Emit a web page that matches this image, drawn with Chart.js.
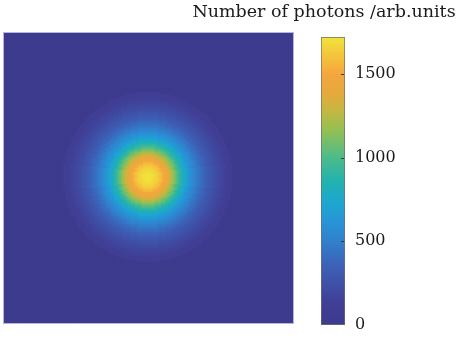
<!DOCTYPE html>
<html>
<head>
<meta charset="utf-8">
<title>Photon distribution</title>
<script src="https://cdn.jsdelivr.net/npm/chart.js"></script>
<style>
  body { margin: 0; background: #fff; }
  #wrap { position: relative; width: 462px; height: 340px; overflow: hidden; }
  #heat { position: absolute; left: 0; top: 0; }
  #bar { position: absolute; left: 186px; top: 0; }
</style>
</head>
<body>
<div id="wrap">
  <canvas id="heat" width="300" height="340"></canvas>
  <canvas id="bar" width="276" height="340"></canvas>
</div>
<script>
// square grid of cells, spot sits in the middle
var gridSize = 145;
var spotCenter = [72, 72];
// photon count vs distance from the spot centre (one entry per cell of radius),
// read off the picture; outside the last entry the field is 0
var radialProfile = [
  1720, 1716, 1705, 1688, 1665, 1636, 1600, 1556, 1505, 1448,
  1386, 1320, 1230, 1150, 1070, 990, 915, 845, 780, 722,
  670, 622, 578, 538, 502, 468, 435, 402, 372, 344,
  318, 295, 274, 255, 232, 214, 196, 180, 165, 150,
  138, 126, 115
];
var colorbarMax = 1720;
var colorbarTicks = [0, 500, 1000, 1500];
var colorbarTitle = 'Number of photons /arb.units';

// parula-like colormap as it looks in the picture
var cmapStops = [
  [0.00, '#3d3b8e'], [0.08, '#403f96'], [0.15, '#3f52a8'], [0.22, '#3b66bb'],
  [0.29, '#3180cc'], [0.35, '#2892d6'], [0.42, '#1ea6d0'], [0.50, '#22b2ae'],
  [0.58, '#4cbb8a'], [0.68, '#96c052'], [0.75, '#c8b640'], [0.80, '#e4aa3c'],
  [0.87, '#f4a63e'], [0.93, '#f4c23c'], [1.00, '#f1e33a']
];

function hexRgb(h) {
  return [parseInt(h.substr(1, 2), 16), parseInt(h.substr(3, 2), 16), parseInt(h.substr(5, 2), 16)];
}

function cmap(t) {
  t = Math.max(0, Math.min(1, t));
  for (var i = 1; i < cmapStops.length; i++) {
    if (t <= cmapStops[i][0]) {
      var a = cmapStops[i - 1], b = cmapStops[i];
      var f = (t - a[0]) / (b[0] - a[0]);
      var ca = hexRgb(a[1]), cb = hexRgb(b[1]);
      return 'rgb(' + Math.round(ca[0] + (cb[0] - ca[0]) * f) + ',' +
        Math.round(ca[1] + (cb[1] - ca[1]) * f) + ',' +
        Math.round(ca[2] + (cb[2] - ca[2]) * f) + ')';
    }
  }
  return cmapStops[cmapStops.length - 1][1];
}

var cells = [];
var cellColors = [];
for (var row = 0; row < gridSize; row++) {
  for (var col = 0; col < gridSize; col++) {
    var d = Math.round(Math.hypot(col - spotCenter[0], row - spotCenter[1]));
    var v = d < radialProfile.length ? radialProfile[d] : 0;
    cells.push({ x: col, y: row, v: v });
    cellColors.push(cmap(v / colorbarMax));
  }
}

var serif = 'DejaVu Serif';

// thin frame around the image
var frame = {
  id: 'frame',
  afterDraw: function (chart) {
    var a = chart.chartArea, c = chart.ctx;
    c.save();
    c.strokeStyle = 'rgba(175,172,218,0.9)';
    c.lineWidth = 1;
    c.strokeRect(a.left - 0.5, a.top - 0.5, a.right - a.left + 1, a.bottom - a.top + 1);
    c.restore();
  }
};

new Chart(document.getElementById('heat'), {
  type: 'scatter',
  data: {
    datasets: [{
      data: cells,
      pointStyle: 'rect',
      pointRadius: 2.5,
      pointBorderWidth: 0,
      pointBackgroundColor: cellColors
    }]
  },
  options: {
    responsive: false,
    animation: false,
    events: [],
    clip: 0,
    layout: { padding: { left: 3, top: 33, right: 7, bottom: 17 } },
    plugins: { legend: { display: false }, tooltip: { enabled: false } },
    scales: {
      x: { display: false, min: -0.5, max: gridSize - 0.5 },
      y: { display: false, min: -0.5, max: gridSize - 0.5, reverse: true }
    }
  },
  plugins: [frame]
});

// small inward tick marks on the right edge of the colour bar
var barTicks = {
  id: 'barTicks',
  afterDatasetsDraw: function (chart) {
    var a = chart.chartArea, c = chart.ctx, y = chart.scales.y;
    c.save();
    c.strokeStyle = '#3a3a3a';
    c.lineWidth = 1;
    colorbarTicks.forEach(function (t) {
      if (t === 0) return;
      var py = Math.round(y.getPixelForValue(t)) + 0.5;
      c.beginPath();
      c.moveTo(a.right - 1, py);
      c.lineTo(a.right - 4, py);
      c.stroke();
    });
    c.restore();
  }
};

new Chart(document.getElementById('bar'), {
  type: 'bar',
  data: {
    labels: [''],
    datasets: [{
      data: [[0, colorbarMax]],
      xAxisID: 'x',
      yAxisID: 'y',
      barPercentage: 1,
      categoryPercentage: 1,
      borderColor: '#6e6e6e',
      borderWidth: 1,
      borderSkipped: false,
      backgroundColor: function (ctx) {
        var chart = ctx.chart;
        if (!chart.chartArea) return cmapStops[0][1];
        var y = chart.scales.y;
        var g = chart.ctx.createLinearGradient(0, y.getPixelForValue(0), 0, y.getPixelForValue(colorbarMax));
        cmapStops.forEach(function (s) { g.addColorStop(s[0], s[1]); });
        return g;
      }
    }]
  },
  options: {
    responsive: false,
    animation: false,
    events: [],
    layout: { padding: { left: 0, right: 0, top: 0, bottom: 15 } },
    plugins: {
      legend: { display: false },
      tooltip: { enabled: false },
      title: {
        display: true,
        text: colorbarTitle,
        color: '#1a1a1a',
        font: { family: serif, size: 17.5, weight: 'normal' },
        padding: { top: 2, bottom: 14 }
      }
    },
    scales: {
      x: { display: false },
      // empty spacer so the bar sits to the right of the image
      gap: {
        type: 'linear',
        position: 'left',
        grid: { display: false },
        border: { display: false },
        ticks: { display: false },
        afterFit: function (scale) { scale.width = 135; }
      },
      y: {
        position: 'right',
        min: 0,
        max: colorbarMax,
        grid: { display: false, drawTicks: false },
        border: { display: false },
        afterBuildTicks: function (scale) {
          scale.ticks = colorbarTicks.map(function (t) { return { value: t }; });
        },
        afterFit: function (scale) {
          scale.width = 117;
          scale.paddingTop = 0;
          scale.paddingBottom = 0;
        },
        ticks: {
          padding: 10,
          color: '#1a1a1a',
          font: { family: serif, size: 16 },
          callback: function (v) { return String(v); }
        }
      }
    }
  },
  plugins: [barTicks]
});
</script>
</body>
</html>
